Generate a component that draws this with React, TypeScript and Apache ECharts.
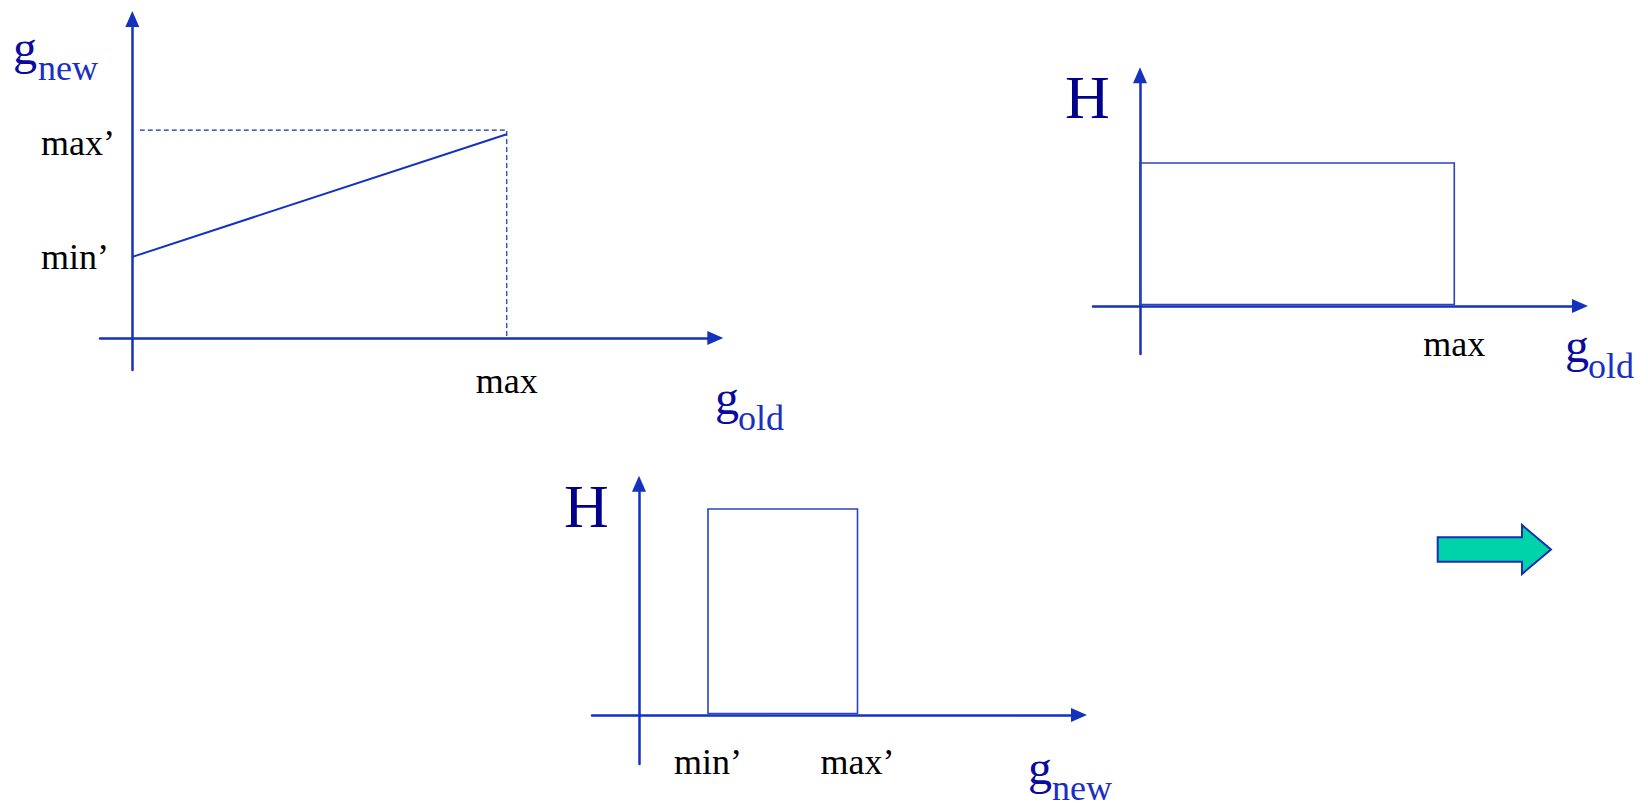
import React, { useEffect, useRef } from "react";
import * as echarts from "echarts";

// ---------- data ----------
// Transfer function g_new = T(g_old)
const transferOld = [0, 100];
const transferNew = [39, 98];
const guideMaxOld = 100;
const guideMaxNew = 100;
const guideStartOld = 2;

// Histogram of g_old: [from, to, height]
const histOldFrom = [0];
const histOldTo = [100];
const histOldHeight = [100];

// Histogram of g_new: [from, to, height]
const histNewFrom = [30];
const histNewTo = [95];
const histNewHeight = [144];

// Tick labels
const transferYTicks = [39, 100];
const transferYLabels = ["min’", "max’"];
const transferXTicks = [100];
const transferXLabels = ["max"];
const histOldXTicks = [100];
const histOldXLabels = ["max"];
const histNewXTicks = [30, 95];
const histNewXLabels = ["min’", "max’"];

// Axis titles
const titleMain = "g";
const subNew = "new";
const subOld = "old";
const titleHist = "H";

// ---------- styles ----------
const BLUE = "#1432bd";
const RECT_BLUE = "#2a44c2";
const G_COLOR = "#0a0aa0";
const SUB_COLOR = "#1a30c0";
const H_COLOR = "#00008c";
const SERIF = "'Liberation Serif', 'Times New Roman', serif";

function axisLine() {
  return {
    show: true,
    onZero: true,
    symbol: ["none", "triangle"],
    symbolSize: [14, 16],
    lineStyle: { color: BLUE, width: 2.5 },
  };
}

function labelFor(ticks: number[], labels: string[]) {
  return (v: number) => {
    const i = ticks.indexOf(v);
    return i >= 0 ? labels[i] : "";
  };
}

function buildOption() {
  const histOldData = histOldFrom.map((f, i) => [f, histOldTo[i], histOldHeight[i]]);
  const histNewData = histNewFrom.map((f, i) => [f, histNewTo[i], histNewHeight[i]]);

  const rectRender = (params: any, api: any) => {
    const x0 = api.value(0);
    const x1 = api.value(1);
    const h = api.value(2);
    const p0 = api.coord([x0, 0]);
    const p1 = api.coord([x1, h]);
    return {
      type: "rect",
      shape: { x: p0[0], y: p1[1], width: p1[0] - p0[0], height: p0[1] - p1[1] - 1.5 },
      style: { fill: "none", stroke: RECT_BLUE, lineWidth: 1.6 },
    };
  };

  const gText = (x: number, baseline: number, sub: string, subX: number) => [
    {
      type: "text",
      x,
      y: baseline - 16.2,
      style: {
        text: titleMain,
        fontFamily: SERIF,
        fontSize: 48,
        fill: G_COLOR,
        align: "left",
        verticalAlign: "middle",
      },
    },
    {
      type: "text",
      x: subX,
      y: baseline + 16 - 12.15,
      style: {
        text: sub,
        fontFamily: SERIF,
        fontSize: 36,
        fill: SUB_COLOR,
        align: "left",
        verticalAlign: "middle",
      },
    },
  ];

  const hText = (x: number, baseline: number) => ({
    type: "text",
    x,
    y: baseline - 20.9,
    style: {
      text: titleHist,
      fontFamily: SERIF,
      fontSize: 62,
      fill: H_COLOR,
      align: "left",
      verticalAlign: "middle",
    },
  });

  const gridBase = { containLabel: false, outerBoundsMode: "none" };

  return {
    animation: false,
    backgroundColor: "#ffffff",
    grid: [
      { ...gridBase, left: 100, top: 19, width: 615.3, height: 351 },
      { ...gridBase, left: 1093, top: 75.3, width: 487, height: 278.7 },
      { ...gridBase, left: 592, top: 483.7, width: 487, height: 280.3 },
    ],
    xAxis: [
      {
        type: "value",
        gridIndex: 0,
        min: -8.63,
        max: 155.7,
        axisLine: axisLine(),
        axisTick: { show: false },
        splitLine: { show: false },
        axisLabel: {
          customValues: transferXTicks,
          formatter: labelFor(transferXTicks, transferXLabels),
          color: "#000",
          fontFamily: SERIF,
          fontSize: 36,
          margin: -7.5,
        },
      },
      {
        type: "value",
        gridIndex: 1,
        min: -14.95,
        max: 140,
        axisLine: axisLine(),
        axisTick: { show: false },
        splitLine: { show: false },
        axisLabel: {
          customValues: histOldXTicks,
          formatter: labelFor(histOldXTicks, histOldXLabels),
          color: "#000",
          fontFamily: SERIF,
          fontSize: 36,
          margin: -28,
        },
      },
      {
        type: "value",
        gridIndex: 2,
        min: -20.43,
        max: 191.3,
        axisLine: axisLine(),
        axisTick: { show: false },
        splitLine: { show: false },
        axisLabel: {
          customValues: histNewXTicks,
          formatter: labelFor(histNewXTicks, histNewXLabels),
          color: "#000",
          fontFamily: SERIF,
          fontSize: 36,
          margin: -19.75,
        },
      },
    ],
    yAxis: [
      {
        type: "value",
        gridIndex: 0,
        min: -15.4,
        max: 153.4,
        axisLine: axisLine(),
        axisTick: { show: false },
        splitLine: { show: false },
        axisLabel: {
          customValues: transferYTicks,
          formatter: (v: number) => {
            const i = transferYTicks.indexOf(v);
            return i >= 0 ? `{t${i}|${transferYLabels[i]}}` : "";
          },
          align: "left",
          margin: 59,
          color: "#000",
          fontFamily: SERIF,
          fontSize: 36,
          rich: {
            t0: { fontFamily: SERIF, fontSize: 36, color: "#000" },
            t1: { fontFamily: SERIF, fontSize: 36, color: "#000", padding: [26, 0, 0, 0] },
          },
        },
      },
      {
        type: "value",
        gridIndex: 1,
        min: -33.6,
        max: 161.3,
        axisLine: axisLine(),
        axisTick: { show: false },
        splitLine: { show: false },
        axisLabel: { show: false },
      },
      {
        type: "value",
        gridIndex: 2,
        min: -34.3,
        max: 161.7,
        axisLine: axisLine(),
        axisTick: { show: false },
        splitLine: { show: false },
        axisLabel: { show: false },
      },
    ],
    series: [
      {
        type: "line",
        name: "transfer",
        xAxisIndex: 0,
        yAxisIndex: 0,
        data: transferOld.map((x, i) => [x, transferNew[i]]),
        symbol: "none",
        lineStyle: { color: BLUE, width: 2 },
        z: 5,
      },
      {
        type: "line",
        name: "guide",
        xAxisIndex: 0,
        yAxisIndex: 0,
        data: [
          [guideStartOld, guideMaxNew],
          [guideMaxOld, guideMaxNew],
          [guideMaxOld, 0],
        ],
        symbol: "none",
        lineStyle: { color: BLUE, width: 1.2, type: [5, 3] },
        z: 4,
      },
      {
        type: "custom",
        name: "histOld",
        xAxisIndex: 1,
        yAxisIndex: 1,
        data: histOldData,
        encode: { x: [0, 1], y: 2 },
        renderItem: rectRender,
        z: 4,
      },
      {
        type: "custom",
        name: "histNew",
        xAxisIndex: 2,
        yAxisIndex: 2,
        data: histNewData,
        encode: { x: [0, 1], y: 2 },
        renderItem: rectRender,
        z: 4,
      },
    ],
    graphic: [
      ...gText(13, 64, subNew, 38),
      ...gText(715, 414, subOld, 738),
      ...gText(1565, 362, subOld, 1588),
      ...gText(1028, 784, subNew, 1052),
      hText(1065, 118.3),
      hText(564, 526.7),
      {
        type: "polygon",
        shape: {
          points: [
            [1437.7, 537.3],
            [1522, 537.3],
            [1522, 525],
            [1551, 549.5],
            [1522, 574],
            [1522, 561.7],
            [1437.7, 561.7],
          ],
        },
        style: { fill: "#00d2aa", stroke: "#1a2db5", lineWidth: 2 },
      },
    ],
  };
}

export default function App() {
  const ref = useRef<HTMLDivElement>(null);
  useEffect(() => {
    document.body.style.margin = "0";
    const chart = echarts.init(ref.current!, null, { renderer: "svg" });
    chart.setOption(buildOption() as any);
    return () => chart.dispose();
  }, []);
  return <div ref={ref} style={{ width: 1648, height: 809, background: "#fff" }} />;
}
